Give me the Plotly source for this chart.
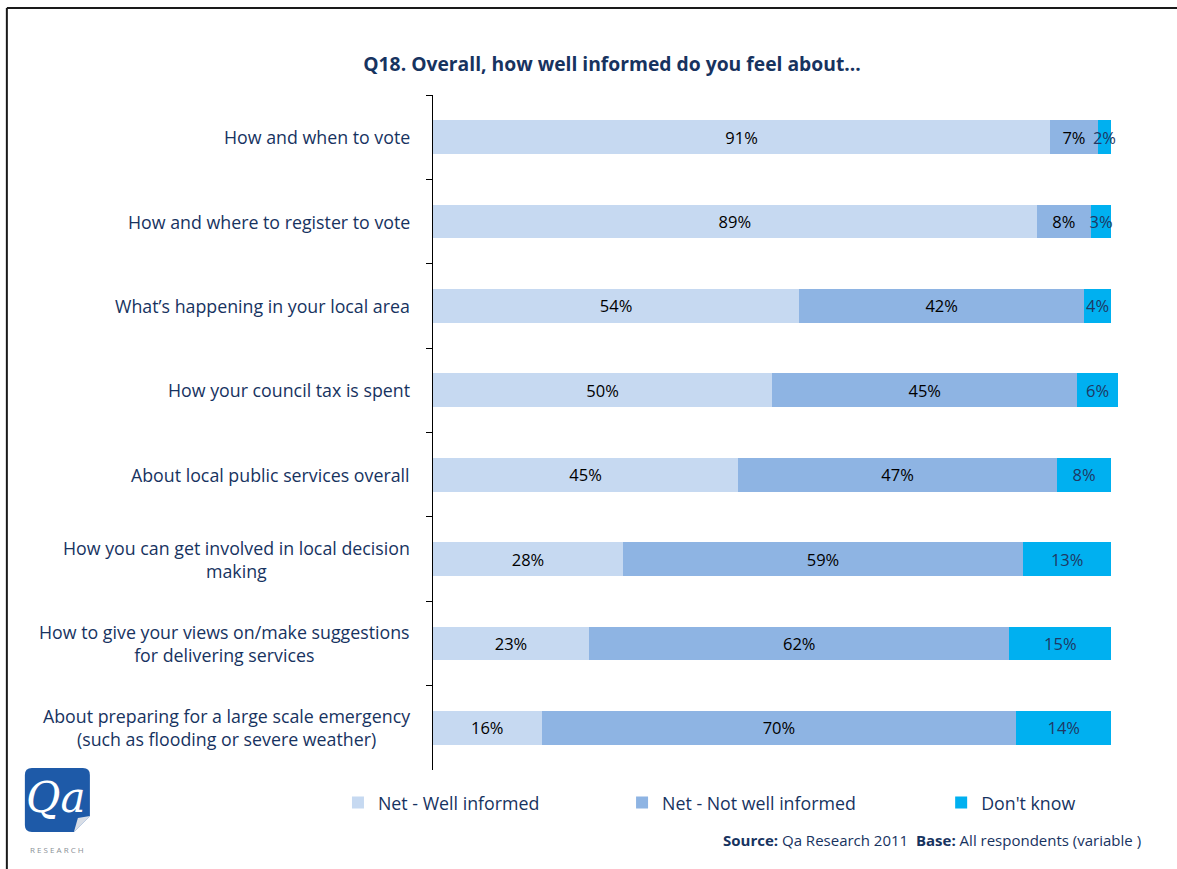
import plotly.graph_objects as go

# Survey statements, top to bottom
statements = [
    "How and when to vote",
    "How and where to register to vote",
    "What\u2019s happening in your local area",
    "How your council tax is spent",
    "About local public services overall",
    "How you can get involved in local decision<br>making",
    "How to give your views on/make suggestions<br>for delivering services",
    "About preparing for a large scale emergency<br>(such as flooding or severe weather)",
]
well_informed = [91, 89, 54, 50, 45, 28, 23, 16]
not_well_informed = [7, 8, 42, 45, 47, 59, 62, 70]
dont_know = [2, 3, 4, 6, 8, 13, 15, 14]

series_names = ["Net - Well informed", "Net - Not well informed", "Don't know"]
series_colors = ["#C6D9F1", "#8EB4E3", "#00B0F0"]
label_colors = ["#000000", "#000000", "#1F3864"]

NAVY = "#17335F"
FONT = "Open Sans"

W, H = 1177, 869
X_MAX = 101  # rounded shares can total 101
PX_PER_PCT = 6.78
L, T, B = 433, 95, 99
R = W - L - PX_PER_PCT * X_MAX
PW, PH = W - L - R, H - T - B


def px(x):
    return (x - L) / PW


def py(y):
    return (H - B - y) / PH


fig = go.Figure()
legend_ids = ["legend", "legend2", "legend3"]
for name, vals, col, tcol, lg in zip(series_names,
                                     [well_informed, not_well_informed, dont_know],
                                     series_colors, label_colors, legend_ids):
    fig.add_trace(go.Bar(
        y=statements, x=vals, name=name, orientation="h",
        marker=dict(color=col, line=dict(width=0)),
        width=0.4,
        text=[f"{v}%" for v in vals],
        textposition="inside", insidetextanchor="middle", textangle=0,
        textfont=dict(family=FONT, size=16.5, color=tcol),
        cliponaxis=False, legend=lg,
    ))

# Category labels, lines centred within each label block
for s in statements:
    fig.add_annotation(
        x=px(412), xref="paper", y=s, yref="y",
        text=s, showarrow=False, xanchor="right", yanchor="middle", align="center",
        font=dict(family=FONT, size=17.8, color=NAVY),
    )

# Source note
fig.add_annotation(
    x=px(1143), xref="paper", y=py(840), yref="paper",
    text="<b>Source:</b> Qa Research 2011  <b>Base:</b> All respondents (variable )",
    showarrow=False, xanchor="right", yanchor="middle",
    font=dict(family=FONT, size=15, color=NAVY),
)

# Frame around the chart
frame = dict(color="#1a1a1a", width=2)
fig.add_shape(type="line", xref="paper", yref="paper",
              x0=px(7), x1=px(W + 5), y0=py(8), y1=py(8), line=frame)
fig.add_shape(type="line", xref="paper", yref="paper",
              x0=px(7), x1=px(7), y0=py(8), y1=py(H + 5), line=frame)


# Company logo: rounded blue tile with a curled corner
def rounded_tile(x0, y0, x1, y1, r):
    pts = [
        f"M {px(x0 + r)},{py(y0)}",
        f"L {px(x1 - r)},{py(y0)}",
        f"Q {px(x1)},{py(y0)} {px(x1)},{py(y0 + r)}",
        f"L {px(x1)},{py(y1 - 16)}",
        f"L {px(x1 - 16)},{py(y1)}",
        f"L {px(x0 + r)},{py(y1)}",
        f"Q {px(x0)},{py(y1)} {px(x0)},{py(y1 - r)}",
        f"L {px(x0)},{py(y0 + r)}",
        f"Q {px(x0)},{py(y0)} {px(x0 + r)},{py(y0)}",
        "Z",
    ]
    return " ".join(pts)


fig.add_shape(type="path", xref="paper", yref="paper",
              path=rounded_tile(25, 768, 90, 832, 7),
              fillcolor="#1E5AA8", line=dict(width=0), layer="above")
fig.add_shape(type="path", xref="paper", yref="paper",
              path=f"M {px(90)},{py(816)} L {px(74)},{py(832)} L {px(78)},{py(818)} Z",
              fillcolor="#D9DEE6", line=dict(width=0), layer="above")
fig.add_annotation(
    x=px(56), xref="paper", y=py(797), yref="paper",
    text="<i>Qa</i>", showarrow=False, xanchor="center", yanchor="middle",
    font=dict(family="DejaVu Serif", size=42, color="white"),
)
fig.add_annotation(
    x=px(57), xref="paper", y=py(849), yref="paper",
    text="R E S E A R C H", showarrow=False, xanchor="center", yanchor="middle",
    font=dict(family=FONT, size=8, color="#8A8F96"),
)

legend_style = dict(orientation="h", xref="paper", yref="paper", yanchor="middle",
                    xanchor="left", bgcolor="rgba(0,0,0,0)", itemwidth=30,
                    font=dict(family=FONT, size=17.8, color=NAVY))

fig.update_layout(
    width=W, height=H,
    margin=dict(l=L, r=R, t=T, b=B),
    paper_bgcolor="white", plot_bgcolor="white",
    barmode="stack",
    title=dict(text="<b>Q18. Overall, how well informed do you feel about...</b>",
               x=612 / W, xanchor="center", y=1 - 64 / H, yanchor="middle",
               font=dict(family=FONT, size=19.3, color=NAVY)),
    xaxis=dict(range=[0, X_MAX], visible=False, fixedrange=True),
    yaxis=dict(type="category", autorange="reversed", showticklabels=False,
               tickson="boundaries", ticks="outside", ticklen=6, tickwidth=1,
               tickcolor="#000000", showline=True, linecolor="#000000", linewidth=1,
               showgrid=False, zeroline=False),
    legend=dict(x=px(338), y=py(803), **legend_style),
    legend2=dict(x=px(622), y=py(803), **legend_style),
    legend3=dict(x=px(941), y=py(803), **legend_style),
    showlegend=True,
    uniformtext=dict(minsize=16.5, mode="show"),
)

fig.write_html("out.html")
